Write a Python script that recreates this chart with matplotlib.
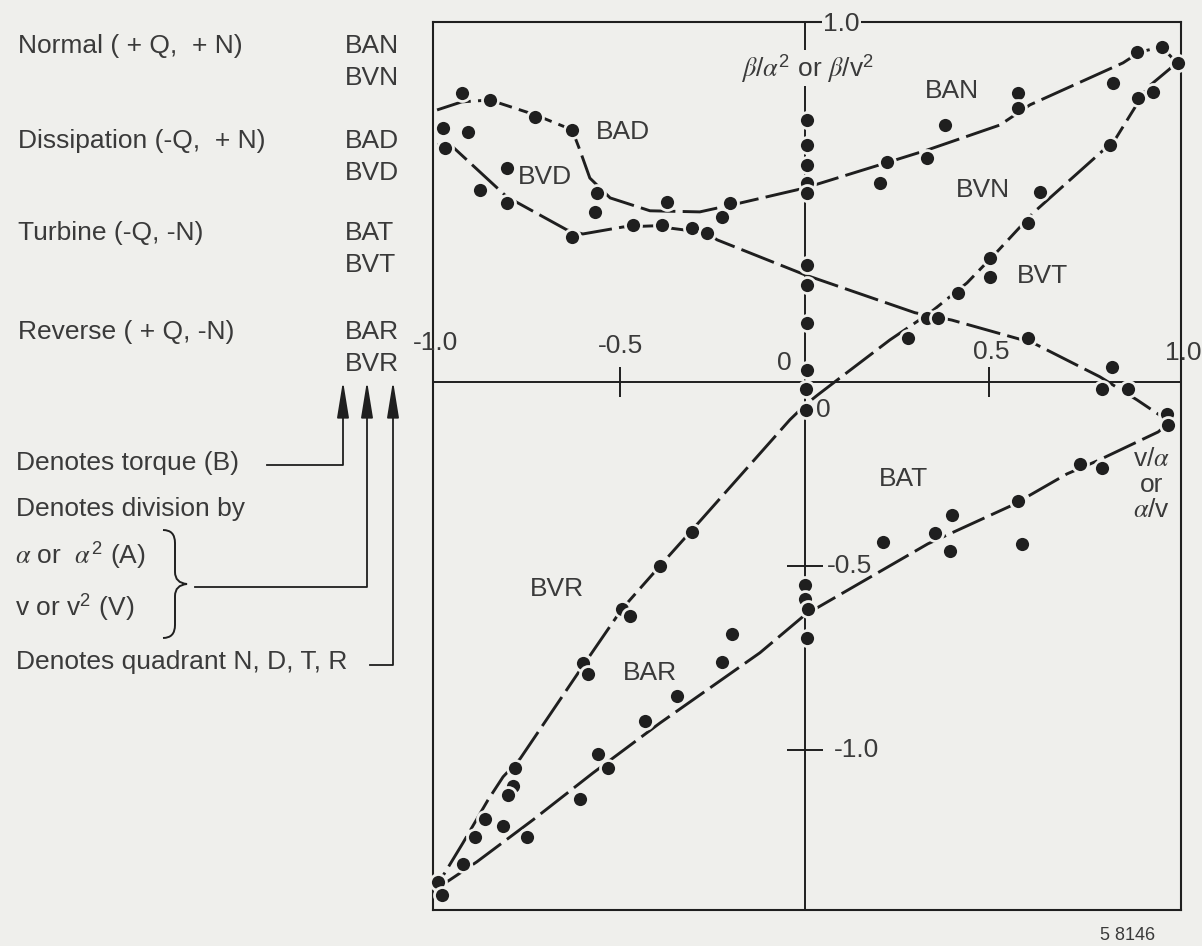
import matplotlib
matplotlib.use('Agg')
import matplotlib.pyplot as plt
from matplotlib.path import Path
from matplotlib.patches import PathPatch

plt.rcParams['font.family'] = ['Liberation Sans', 'DejaVu Sans']
plt.rcParams['mathtext.fontset'] = 'custom'
plt.rcParams['mathtext.rm'] = 'Liberation Sans'
plt.rcParams['mathtext.it'] = 'STIXGeneral:italic'

BG = '#efefec'
INK = '#1f1f1f'
TXT = '#3a3a3a'

# curves: x = v/alpha (BA) or alpha/v (BV), y = beta/alpha^2 or beta/v^2
bad_x = [-0.997, -0.930, -0.854, -0.732, -0.631, -0.610, -0.583, -0.528, -0.420, -0.285, -0.176, 0.0]
bad_y = [0.739, 0.761, 0.766, 0.726, 0.685, 0.630, 0.554, 0.500, 0.465, 0.462, 0.486, 0.527]
ban_x = [0.0, 0.203, 0.331, 0.528, 0.610, 0.862, 0.908, 0.967, 1.008]
ban_y = [0.527, 0.590, 0.630, 0.698, 0.753, 0.867, 0.897, 0.910, 0.867]
bvn_x = [1.008, 0.927, 0.840, 0.618, 0.520, 0.439, 0.339, 0.230, 0.095, 0.035, 0.0]
bvn_y = [0.867, 0.799, 0.658, 0.459, 0.353, 0.269, 0.188, 0.114, 0.011, -0.035, -0.063]
bvr_x = [0.0, -0.041, -0.279, -0.393, -0.496, -0.602, -0.772, -0.818, -0.859, -0.927, -0.976, -0.997]
bvr_y = [-0.063, -0.103, -0.372, -0.500, -0.617, -0.772, -1.024, -1.073, -1.136, -1.253, -1.334, -1.367]
bar_x = [0.0, -0.122, -0.393, -0.575, -0.737, -0.889, -0.962, -0.997]
bar_y = [-0.633, -0.736, -0.927, -1.063, -1.190, -1.304, -1.353, -1.375]
bat_x = [0.0, 0.333, 0.564, 0.710, 0.791, 0.957, 0.989]
bat_y = [-0.633, -0.440, -0.334, -0.250, -0.215, -0.136, -0.109]
bvt_x = [0.0, 0.298, 0.398, 0.618, 0.799, 0.900, 0.989]
bvt_y = [0.291, 0.188, 0.168, 0.106, 0.014, -0.049, -0.109]
bvd_x = [-0.997, -0.957, -0.808, -0.645, -0.602, -0.493, -0.412, -0.266, -0.238, 0.0]
bvd_y = [0.644, 0.641, 0.503, 0.413, 0.402, 0.421, 0.424, 0.405, 0.386, 0.291]

# measured points
bad_px = [-0.930, -0.854, -0.732, -0.631, -0.981, -0.913, -0.564, -0.569, -0.374, -0.203, -0.225]
bad_py = [0.785, 0.766, 0.720, 0.685, 0.690, 0.679, 0.514, 0.462, 0.489, 0.486, 0.448]
bvd_px = [-0.976, -0.808, -0.881, -0.808, -0.631, -0.466, -0.388, -0.306, -0.266]
bvd_py = [0.636, 0.582, 0.522, 0.486, 0.394, 0.427, 0.427, 0.418, 0.405]
ban_px = [0.222, 0.203, 0.331, 0.379, 0.577, 0.577, 0.835, 0.900, 0.967, 1.011]
ban_py = [0.598, 0.541, 0.609, 0.698, 0.785, 0.745, 0.813, 0.897, 0.910, 0.867]
bvn_px = [0.943, 0.902, 0.827, 0.637, 0.604, 0.501, 0.501, 0.415, 0.331, 0.360, 0.279]
bvn_py = [0.788, 0.772, 0.644, 0.516, 0.432, 0.337, 0.285, 0.242, 0.174, 0.174, 0.120]
bvt_px = [0.604, 0.832, 0.805, 0.875, 0.981, 0.984]
bvt_py = [0.120, 0.041, -0.020, -0.020, -0.087, -0.117]
bat_px = [0.745, 0.805, 0.577, 0.588, 0.398, 0.352, 0.393, 0.211]
bat_py = [-0.223, -0.234, -0.323, -0.440, -0.361, -0.410, -0.459, -0.435]
bvr_px = [-0.306, -0.393, -0.496, -0.474, -0.602, -0.588, -0.786, -0.791, -0.805, -0.867, -0.894, -0.995]
bvr_py = [-0.408, -0.500, -0.617, -0.636, -0.764, -0.793, -1.049, -1.098, -1.122, -1.188, -1.236, -1.359]
bar_px = [-0.198, -0.225, -0.347, -0.434, -0.561, -0.534, -0.610, -0.753, -0.818, -0.927, -0.984]
bar_py = [-0.685, -0.761, -0.853, -0.921, -1.011, -1.049, -1.133, -1.236, -1.207, -1.310, -1.394]
axis_px = [0.005, 0.005, 0.005, 0.005, 0.005, 0.005, 0.005, 0.005, 0.005, 0.004, 0.003, 0.0, 0.0, 0.008, 0.005]
axis_py = [0.712, 0.644, 0.590, 0.541, 0.514, 0.318, 0.264, 0.160, 0.033, -0.019, -0.076, -0.552, -0.590, -0.617, -0.696]

xticks = [-0.5, 0.5]
yticks = [-0.5, -1.0]

fig = plt.figure(figsize=(12.02, 9.46), dpi=100, facecolor=BG)
ax = fig.add_axes([433 / 1202, 36 / 946, 748 / 1202, 888 / 946], facecolor=BG)
ax.set_xlim(-1.008, 1.019)
ax.set_ylim(-1.435, 0.978)
ax.set_xticks([])
ax.set_yticks([])
for s in ax.spines.values():
    s.set_color(INK)
    s.set_linewidth(1.5)

ax.axhline(0, color=INK, lw=1.4, zorder=1)
ax.axvline(0, color=INK, lw=1.4, zorder=1)
ax.plot(xticks, [0] * len(xticks), ls='none', marker='|', ms=22, mew=1.4, color=INK, zorder=1)
ax.plot([0] * len(yticks), yticks, ls='none', marker='_', ms=26, mew=1.4, color=INK, zorder=1)

curves = [(bad_x, bad_y), (ban_x, ban_y), (bvn_x, bvn_y), (bvr_x, bvr_y),
          (bar_x, bar_y), (bat_x, bat_y), (bvt_x, bvt_y), (bvd_x, bvd_y)]
for cx, cy in curves:
    ax.plot(cx, cy, color=INK, lw=2.1, ls=(0, (12, 2.5)), zorder=2)

pts = [(bad_px, bad_py), (bvd_px, bvd_py), (ban_px, ban_py), (bvn_px, bvn_py),
       (bvt_px, bvt_py), (bat_px, bat_py), (bvr_px, bvr_py), (bar_px, bar_py),
       (axis_px, axis_py)]
for px, py in pts:
    ax.plot(px, py, ls='none', marker='o', ms=11.5, mfc=INK, mec=BG, mew=2.0, zorder=3, clip_on=False)

fs = 19
kw = dict(color=TXT, fontsize=fs, ha='center', va='center', clip_on=False, zorder=4)
for lab, x, y in [('BAN', 0.398, 0.791), ('BVN', 0.482, 0.522), ('BVT', 0.645, 0.288),
                  ('BAD', -0.493, 0.679), ('BVD', -0.705, 0.557), ('BAT', 0.266, -0.264),
                  ('BVR', -0.672, -0.562), ('BAR', -0.42, -0.79),
                  ('-1.0', -1.0, 0.106), ('-0.5', -0.5, 0.098), ('0', -0.057, 0.052),
                  ('0', 0.051, -0.076), ('0.5', 0.504, 0.082), ('1.0', 1.024, 0.079),
                  ('-0.5', 0.122, -0.5), ('-1.0', 0.14, -1.0)]:
    ax.text(x, y, lab, **kw)
ax.text(0.098, 0.972, '1.0', bbox=dict(fc=BG, ec='none', pad=1), **kw)
ax.text(0.008, 0.853, r'$\beta$/$\alpha^2$ or $\beta$/v$^2$',
        bbox=dict(fc=BG, ec='none', pad=1), **kw)
ax.text(0.938, -0.28, 'v/$\\alpha$\nor\n$\\alpha$/v', linespacing=1.08, **kw)

# left-hand key, drawn in image pixel coordinates
ov = fig.add_axes([0, 0, 1, 1], facecolor='none')
ov.set_xlim(0, 1202)
ov.set_ylim(946, 0)
ov.axis('off')

lkw = dict(color=TXT, fontsize=fs, va='center', ha='left')
key = [('Normal ( + Q,  + N)', 46, 'BAN', 'BVN'),
       ('Dissipation (-Q,  + N)', 141, 'BAD', 'BVD'),
       ('Turbine (-Q, -N)', 233, 'BAT', 'BVT'),
       ('Reverse ( + Q, -N)', 332, 'BAR', 'BVR')]
for desc, yy, a, b in key:
    ov.text(18, yy, desc, **lkw)
    ov.text(345, yy, a, **lkw)
    ov.text(345, yy + 32, b, **lkw)

ov.text(16, 463, 'Denotes torque (B)', **lkw)
ov.text(16, 509, 'Denotes division by', **lkw)
ov.text(15, 555, r'$\alpha$ or  $\alpha^2$ (A)', **lkw)
ov.text(15, 607, r'v or v$^2$ (V)', **lkw)
ov.text(16, 662, 'Denotes quadrant N, D, T, R', **lkw)

arrows = [(343, 465, 267), (367, 587, 195), (393, 665, 370)]
for xa, yb, xl in arrows:
    ov.plot([xl, xa, xa], [yb, yb, 400], color=INK, lw=1.3)
    ov.annotate('', xy=(xa, 381), xytext=(xa, 405),
                arrowprops=dict(arrowstyle='-|>,head_length=0.8,head_width=0.13',
                                color=INK, lw=1.3, mutation_scale=28, shrinkA=0, shrinkB=0))

brace = Path([(163, 530), (175, 530), (175, 543), (175, 572), (175, 583), (187, 584),
              (175, 585), (175, 596), (175, 625), (175, 638), (163, 638)],
             [Path.MOVETO, Path.CURVE3, Path.CURVE3, Path.LINETO, Path.CURVE3, Path.CURVE3,
              Path.CURVE3, Path.CURVE3, Path.LINETO, Path.CURVE3, Path.CURVE3])
ov.add_patch(PathPatch(brace, fc='none', ec=INK, lw=1.4))

ov.text(1128, 935, '5 8146', color=TXT, fontsize=13, ha='center', va='center')

fig.savefig('out.png', dpi=100, facecolor=BG)
